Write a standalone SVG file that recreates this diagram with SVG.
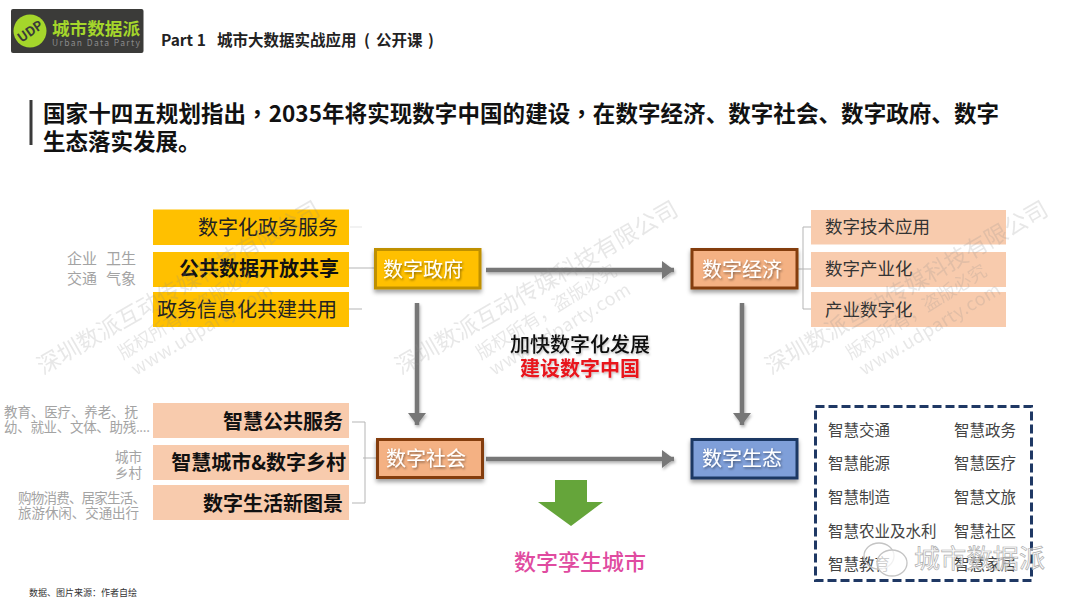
<svg xmlns="http://www.w3.org/2000/svg" width="1080" height="607" viewBox="0 0 1080 607">
<style>
text{font-family:"Noto Sans CJK SC","Liberation Sans",sans-serif}
.t{fill:#222}
.b{font-weight:700;fill:#111}
.r20{font-size:20px;text-anchor:end}
.gr{fill:#a3a3a3;font-size:13.5px}
.nt{font-size:20px;fill:#fff;text-anchor:middle;filter:url(#ts)}
.rb{font-size:17.5px;fill:#333}
.eco{font-size:15.5px;fill:#444}
.conn{fill:none;stroke:#b5b5b5;stroke-width:1}
.arr{fill:none;stroke:#777;stroke-width:4.5;marker-end:url(#ah)}
.wm1{font-size:23px;fill:#8c8c8c;opacity:.2}
.wm2{font-size:18px;fill:#8c8c8c;opacity:.2}
.comma{font-family:"Noto Sans CJK TC","Noto Sans CJK SC",sans-serif}
</style>
<defs>
<filter id="sh" x="-20%" y="-30%" width="140%" height="170%"><feDropShadow dx="0" dy="3" stdDeviation="2.2" flood-color="#000" flood-opacity=".38"/></filter>
<filter id="ash" filterUnits="userSpaceOnUse" x="380" y="240" width="400" height="240"><feDropShadow dx="1" dy="2" stdDeviation="1.500" flood-color="#000" flood-opacity=".3"/></filter>
<filter id="ts" x="-20%" y="-30%" width="140%" height="170%"><feDropShadow dx="1" dy="1.5" stdDeviation="1.2" flood-color="#000" flood-opacity=".45"/></filter>
<filter id="ts2" x="-20%" y="-30%" width="140%" height="170%"><feDropShadow dx="1" dy="1.5" stdDeviation="1.2" flood-color="#000" flood-opacity=".25"/></filter>
<marker id="ah" markerUnits="userSpaceOnUse" markerWidth="14" markerHeight="18" refX="12" refY="9" orient="auto"><path d="M0 0L12 9L0 18L0 0Z" fill="#777"/></marker>
<g id="wmark">
<text class="wm1" transform="translate(43 375) rotate(-30)">深圳数派互动传媒科技有限公司</text>
<text class="wm2" transform="translate(123 360) rotate(-32)">版权所有，盗版必究</text>
<text class="wm2" transform="translate(136 376) rotate(-31)" textLength="161">www.udparty.com</text>
</g>
</defs>

<g id="logo">
<rect x="11" y="9" width="132.500" height="44" rx="2" fill="#3b3b39"/>
<circle cx="30" cy="31" r="16.500" fill="#a5d62b"/>
<text x="30" y="36" font-size="13" font-weight="700" fill="#3b3b39" text-anchor="middle" transform="rotate(-35 30 31)">UDP</text>
<text x="52" y="35" font-size="17.500" font-weight="700" fill="#a5d62b" textLength="88" lengthAdjust="spacingAndGlyphs">城市数据派</text>
<text x="52" y="46" font-size="8.500" fill="#8a8a8a" textLength="88">Urban Data Party</text>
</g>

<g id="header">
<text x="161" y="46" font-size="15.500" font-weight="700" fill="#222">Part 1<tspan x="217">城市大数据实战应用</tspan><tspan x="364">(</tspan><tspan x="376">公开课</tspan><tspan x="428">)</tspan></text>
</g>

<g id="title">
<rect x="29.500" y="100" width="3" height="45" fill="#3a3a3a"/>
<text x="43" y="122" font-size="22.500" font-weight="700" fill="#111" textLength="956">国家十四五规划指出<tspan class="comma">，</tspan>2035年将实现数字中国的建设<tspan class="comma">，</tspan>在数字经济、数字社会、数字政府、数字</text>
<text x="43" y="150" font-size="22.500" font-weight="700" fill="#111">生态落实发展。</text>
</g>

<g id="connectors">
<path class="conn" stroke-opacity=".35" d="M350 227H362"/>
<path class="conn" d="M349 268H375M349 309H362"/>
<path class="conn" d="M352 422H365V503H352M363 458H377"/>
<path class="conn" d="M811 227H803V309H811M798 269H811"/>
<g filter="url(#ash)">
<path class="arr" d="M486 270H674"/>
<path class="arr" d="M486 459H674"/>
<path class="arr" d="M417 303V425"/>
<path class="arr" d="M742 303V425"/>
</g>
</g>

<g id="gov-items">
<g id="gov-1"><rect x="153" y="209.500" width="196" height="35.500" fill="#ffc000"/><text class="t r20" x="338" y="235">数字化政务服务</text></g>
<g id="gov-2"><rect x="153" y="252" width="196" height="35" fill="#ffc000"/><text class="b r20" x="339" y="276">公共数据开放共享</text></g>
<g id="gov-3"><rect x="153" y="292" width="196" height="35" fill="#ffc000"/><text class="t r20" x="337" y="317">政务信息化共建共用</text></g>
</g>

<g id="soc-items">
<g id="soc-1"><rect x="153" y="403" width="196" height="35" fill="#f8cbad"/><text class="b r20" x="343" y="429">智慧公共服务</text></g>
<g id="soc-2"><rect x="153" y="445" width="196" height="35" fill="#f8cbad"/><text class="b r20" x="346" y="470">智慧城市&amp;数字乡村</text></g>
<g id="soc-3"><rect x="153" y="485" width="196" height="35" fill="#f8cbad"/><text class="b r20" x="343" y="511">数字生活新图景</text></g>
</g>

<g id="side-labels">
<text x="67" y="264" font-size="15" fill="#a3a3a3">企业</text><text x="106" y="264" font-size="15" fill="#a3a3a3">卫生</text>
<text x="67" y="284" font-size="15" fill="#a3a3a3">交通</text><text x="106" y="284" font-size="15" fill="#a3a3a3">气象</text>
<text class="gr" x="4" y="417" textLength="134">教育、医疗、养老、抚</text>
<text class="gr" x="4" y="432" textLength="146">幼、就业、文体、助残....</text>
<text class="gr" x="142" y="462" text-anchor="end">城市</text>
<text class="gr" x="142" y="478" text-anchor="end">乡村</text>
<text class="gr" x="18" y="503" textLength="128">购物消费、居家生活、</text>
<text class="gr" x="18" y="518" textLength="121">旅游休闲、交通出行</text>
</g>

<g id="node-gov"><rect x="375.500" y="249.500" width="104.500" height="38.500" fill="#ffc000" stroke="#bf9000" stroke-width="3" filter="url(#sh)"/><text class="nt" x="423" y="277">数字政府</text></g>
<g id="node-soc"><rect x="377.500" y="439.500" width="105" height="38" fill="#f4b183" stroke="#843c0c" stroke-width="3" filter="url(#sh)"/><text class="nt" x="426" y="466">数字社会</text></g>
<g id="node-eco"><rect x="692" y="249.500" width="105" height="38.500" fill="#f4b183" stroke="#843c0c" stroke-width="3" filter="url(#sh)"/><text class="nt" x="742" y="277">数字经济</text></g>
<g id="node-ecol"><rect x="692" y="439.500" width="105" height="38.500" fill="#7f9fd9" stroke="#1f3864" stroke-width="3" filter="url(#sh)"/><text class="nt" x="742" y="466">数字生态</text></g>

<g id="eco-items">
<g id="eco-1"><rect x="811" y="210" width="195" height="34.500" fill="#f8cbad"/><text class="rb" x="825" y="233">数字技术应用</text></g>
<g id="eco-2"><rect x="811" y="252" width="195" height="35" fill="#f8cbad"/><text class="rb" x="825" y="275">数字产业化</text></g>
<g id="eco-3"><rect x="811" y="292" width="195" height="35" fill="#f8cbad"/><text class="rb" x="825" y="316">产业数字化</text></g>
</g>

<g id="ecology-box">
<rect x="815.500" y="406.500" width="216" height="174" fill="none" stroke="#1f3864" stroke-width="3" stroke-dasharray="9 4"/>
<text class="eco" x="828" y="436">智慧交通</text><text class="eco" x="954" y="436">智慧政务</text>
<text class="eco" x="828" y="469">智慧能源</text><text class="eco" x="954" y="469">智慧医疗</text>
<text class="eco" x="828" y="503">智慧制造</text><text class="eco" x="954" y="503">智慧文旅</text>
<text class="eco" x="828" y="537">智慧农业及水利</text><text class="eco" x="954" y="537">智慧社区</text>
<text class="eco" x="828" y="570">智慧教育</text><text class="eco" x="954" y="570">智慧家居</text>
</g>

<g id="center">
<text x="580" y="352" font-size="20" font-weight="500" fill="#111" text-anchor="middle" filter="url(#ts2)">加快数字化发展</text>
<text x="580" y="376" font-size="20" font-weight="700" fill="#e8141c" text-anchor="middle" filter="url(#ts2)">建设数字中国</text>
</g>

<g id="twin">
<path d="M555 480H587V502H603L571 526L538 502H555Z" fill="#65a53a"/>
<text x="580" y="570" font-size="22" font-weight="500" fill="#e04ba0" text-anchor="middle">数字孪生城市</text>
</g>

<g id="source"><text x="29" y="596" font-size="9" fill="#333">数据、图片来源：作者自绘</text></g>

<g id="watermarks">
<use href="#wmark"/>
<use href="#wmark" x="358"/>
<use href="#wmark" x="728"/>
</g>

<g id="wechat-mark">
<ellipse cx="879" cy="556" rx="15" ry="13" fill="none" stroke="#c4c4c4" stroke-width="1.300"/>
<ellipse cx="892" cy="563" rx="15" ry="13" fill="#fff" fill-opacity=".75" stroke="#c4c4c4" stroke-width="1.300"/>
<text x="914" y="568" font-size="26" fill="#fff" fill-opacity=".55" stroke="#aeaeae" stroke-width=".7" textLength="131">城市数据派</text>
</g>
</svg>
